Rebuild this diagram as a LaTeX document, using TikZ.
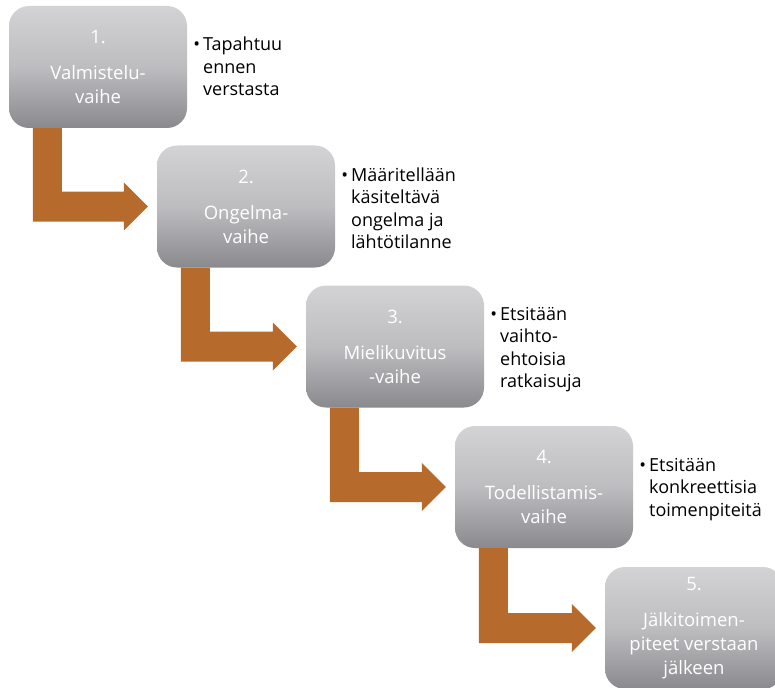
\documentclass[tikz,border=0pt]{standalone}
\usepackage{fontspec}
\setmainfont{Open Sans}
\usepackage{xcolor}
\usetikzlibrary{calc}
\definecolor{StepTop}{HTML}{D3D3D6}
\definecolor{StepMid}{HTML}{BDBDC0}
\definecolor{StepBottom}{HTML}{8A8A8E}
\definecolor{FlowOrange}{HTML}{B66A2C}

\begin{document}
\begin{tikzpicture}[
  x=1pt, y=1pt,
  stepbox/.style={rounded corners=20pt, minimum width=178pt, minimum height=122pt,
                  inner sep=2pt, align=center, text=white,
                  top color=StepTop, bottom color=StepBottom, middle color=StepMid,
                  font=\fontsize{18.5}{24}\selectfont},
  note/.style={anchor=west, inner sep=0pt, font=\fontsize{18}{22.5}\selectfont},
  elbow/.style={fill=FlowOrange},
]
  \useasboundingbox (0,0) rectangle (775,-687);
  \clip (0,0) rectangle (775,-687);

% ===== phase boxes =====
  \node[stepbox] (b1) at (98,-67)    {1.\\[12pt]Valmistelu-\\vaihe};
  \node[stepbox] (b2) at (246,-206.5) {2.\\[12pt]Ongelma-\\vaihe};
  \node[stepbox] (b3) at (395,-346.5) {3.\\[12pt]Mielikuvitus\\-vaihe};
  \node[stepbox] (b4) at (544,-487)   {4.\\[12pt]Todellistamis-\\vaihe};
  \node[stepbox] (b5) at (694,-628)   {5.\\[12pt]Jälkitoimen-\\piteet verstaan\\jälkeen};

% ===== bullet notes =====
  \node[note] (n1) at ($(b1.east)+(6,-2)$)
    {\begin{tabular}{@{}l@{\hspace{3pt}}l@{}}\textbullet & Tapahtuu\\ & ennen\\ & verstasta\end{tabular}};
  \node[note] (n2) at ($(b2.east)+(6,-4)$)
    {\begin{tabular}{@{}l@{\hspace{3pt}}l@{}}\textbullet & Määritellään\\ & käsiteltävä\\ & ongelma ja\\ & lähtötilanne\end{tabular}};
  \node[note] (n3) at ($(b3.east)+(6,-3)$)
    {\begin{tabular}{@{}l@{\hspace{3pt}}l@{}}\textbullet & Etsitään\\ & vaihto-\\ & ehtoisia\\ & ratkaisuja\end{tabular}};
  \node[note] (n4) at ($(b4.east)+(6,-2)$)
    {\begin{tabular}{@{}l@{\hspace{3pt}}l@{}}\textbullet & Etsitään\\ & konkreettisia\\ & toimenpiteitä\end{tabular}};

% ===== elbow arrows =====
  \foreach \a/\b in {b1/b2, b2/b3, b3/b4, b4/b5}
    \fill[elbow] let \p1=(\a.south west), \p2=(\b.west) in
      (\x1+24pt,\y1) -- (\x1+53pt,\y1) -- (\x1+53pt,\y2+15pt) -- (\x2-33pt,\y2+15pt)
      -- (\x2-33pt,\y2+24pt) -- (\x2-9pt,\y2) -- (\x2-33pt,\y2-24pt)
      -- (\x2-33pt,\y2-15pt) -- (\x1+24pt,\y2-15pt) -- cycle;

\end{tikzpicture}
\end{document}
